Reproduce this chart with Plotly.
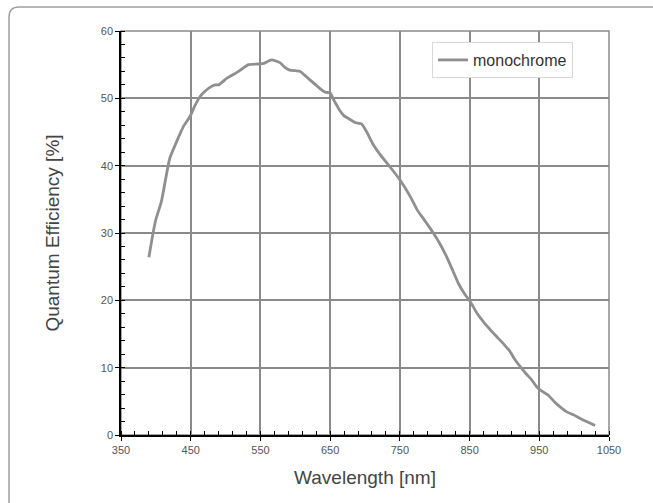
import plotly.graph_objects as go

wavelength_nm = [390, 396, 400, 408, 414, 420, 432, 440, 449, 456, 463, 470, 477, 485, 490,
                 502, 514, 524, 533, 547, 555, 566, 578, 585, 592, 600, 607, 616, 626, 636,
                 643, 650, 655, 662, 670, 678, 686, 695, 702, 712, 722, 736, 750, 765, 775,
                 784, 798, 808, 817, 826, 834, 842, 851, 860, 870, 880, 889, 899, 908, 915,
                 923, 931, 939, 946, 951, 963, 972, 982, 990, 999, 1008, 1018, 1030]
qe_mono = [26.4, 30.0, 32.0, 34.7, 38.0, 41.1, 44.1, 45.9, 47.3, 48.9, 50.2, 51.0, 51.6, 52.0, 52.0,
           53.0, 53.7, 54.4, 55.0, 55.1, 55.2, 55.7, 55.3, 54.6, 54.2, 54.1, 54.0, 53.2, 52.3, 51.4,
           50.9, 50.8, 49.8, 48.5, 47.4, 46.9, 46.4, 46.2, 45.1, 43.1, 41.6, 39.8, 37.9, 35.4, 33.4,
           32.1, 30.0, 28.3, 26.5, 24.4, 22.5, 21.1, 19.8, 18.2, 16.8, 15.6, 14.6, 13.5, 12.4, 11.2,
           10.1, 9.1, 8.2, 7.2, 6.7, 5.9, 4.9, 4.0, 3.4, 3.0, 2.5, 2.0, 1.4]

x_ticks = [350, 450, 550, 650, 750, 850, 950, 1050]
y_ticks = [0, 10, 20, 30, 40, 50, 60]

W, H = 653, 503
L, R, T, B = 121, 44, 31, 68
pw, ph = W - L - R, H - T - B

def px(x):
    return (x - L) / pw

def py(y):
    return (H - B - y) / ph

fig = go.Figure()
fig.add_trace(go.Scatter(
    x=wavelength_nm, y=qe_mono, mode="lines", name="monochrome",
    line=dict(color="#8f8f8f", width=2.8, shape="spline", smoothing=0.5),
))

title_font = dict(family="Liberation Sans, Arial, sans-serif", size=19, color="#444444")
tick_font = dict(family="Liberation Sans, Arial, sans-serif", size=11, color="#555555")

fig.update_xaxes(
    range=[350, 1050], tickvals=x_ticks, ticktext=[str(v) for v in x_ticks],
    showgrid=True, gridcolor="#8a8a8a", gridwidth=1.5,
    showline=True, linecolor="black", linewidth=1.5,
    ticks="outside", ticklen=4, tickcolor="black", tickwidth=1.2,
    minor=dict(dtick=20, tick0=350, ticks="inside", ticklen=4, tickcolor="black", tickwidth=1, showgrid=False),
    tickfont=tick_font, zeroline=False,
    title=dict(text="Wavelength [nm]", font=title_font, standoff=16),
)
fig.update_yaxes(
    range=[0, 60], tickvals=y_ticks, ticktext=[str(v) for v in y_ticks],
    showgrid=True, gridcolor="#8a8a8a", gridwidth=1.5,
    showline=True, linecolor="black", linewidth=1.5,
    ticks="outside", ticklen=4, tickcolor="black", tickwidth=1.2,
    minor=dict(dtick=2, tick0=0, ticks="inside", ticklen=4, tickcolor="black", tickwidth=1, showgrid=False),
    tickfont=tick_font, zeroline=False,
    title=dict(text="Quantum Efficiency [%]", font=title_font, standoff=36),
)

# outer rounded frame (extends past right and bottom edges)
x0, y0, x1, y1 = px(9), py(7), px(665), py(515)
rx, ry = 10 / pw, 10 / ph
frame = (f"M {x0},{y1} L {x0},{y0 - ry} Q {x0},{y0} {x0 + rx},{y0} L {x1},{y0}")
fig.add_shape(type="path", path=frame, xref="paper", yref="paper",
              line=dict(color="#a0a0a0", width=1.5), layer="below")
fig.add_shape(type="rect", x0=0, x1=1, y0=0, y1=1, xref="paper", yref="paper",
              line=dict(color="#8a8a8a", width=1.5), layer="below")

fig.update_layout(
    width=W, height=H,
    margin=dict(l=L, r=R, t=T, b=B, autoexpand=False),
    paper_bgcolor="white", plot_bgcolor="white",
    showlegend=True,
    legend=dict(x=px(432), y=py(42), xanchor="left", yanchor="top",
                bgcolor="white", bordercolor="#d8d8d8", borderwidth=1,
                font=dict(family="Liberation Sans, Arial, sans-serif", size=16, color="#333333")),
)

fig.write_html("out.html", config={"displayModeBar": False},
               post_script="document.body.style.margin='0';")
